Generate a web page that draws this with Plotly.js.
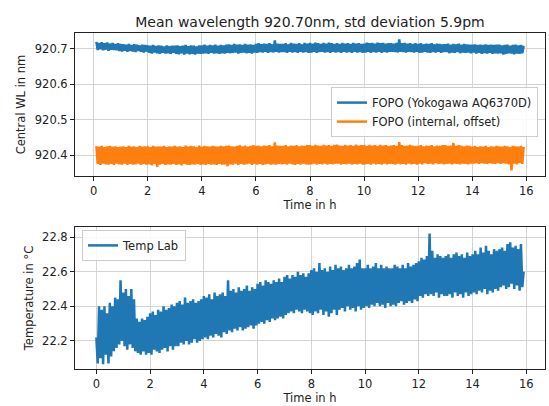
<!DOCTYPE html>
<html>
<head>
<meta charset="utf-8">
<script src="https://cdn.plot.ly/plotly-3.0.1.min.js"></script>
<style>html,body{margin:0;padding:0;background:#fff;}#chart{width:549px;height:406px;}</style>
</head>
<body>
<div id="chart"></div>
<script>
// Time in hours (top panel: both wavelength series)
const timeTop = [0.1,0.15,0.2,0.25,0.3,0.35,0.4,0.45,0.5,0.55,0.6,0.65,0.7,0.75,0.8,0.85,0.9,0.95,
1,1.05,1.1,1.15,1.2,1.25,1.3,1.35,1.4,1.45,1.5,1.55,1.6,1.65,1.7,1.75,1.8,1.85,1.9,1.95,
2,2.05,2.1,2.15,2.2,2.25,2.3,2.35,2.4,2.45,2.5,2.55,2.6,2.65,2.7,2.75,2.8,2.85,2.9,2.95,
3,3.05,3.1,3.15,3.2,3.25,3.3,3.35,3.4,3.45,3.5,3.55,3.6,3.65,3.7,3.75,3.8,3.85,3.9,3.95,
4,4.05,4.1,4.15,4.2,4.25,4.3,4.35,4.4,4.45,4.5,4.55,4.6,4.65,4.7,4.75,4.8,4.85,4.9,4.95,
5,5.05,5.1,5.15,5.2,5.25,5.3,5.35,5.4,5.45,5.5,5.55,5.6,5.65,5.7,5.75,5.8,5.85,5.9,5.95,
6,6.05,6.1,6.15,6.2,6.25,6.3,6.35,6.4,6.45,6.5,6.55,6.6,6.65,6.7,6.75,6.8,6.85,6.9,6.95,
7,7.05,7.1,7.15,7.2,7.25,7.3,7.35,7.4,7.45,7.5,7.55,7.6,7.65,7.7,7.75,7.8,7.85,7.9,7.95,
8,8.05,8.1,8.15,8.2,8.25,8.3,8.35,8.4,8.45,8.5,8.55,8.6,8.65,8.7,8.75,8.8,8.85,8.9,8.95,
9,9.05,9.1,9.15,9.2,9.25,9.3,9.35,9.4,9.45,9.5,9.55,9.6,9.65,9.7,9.75,9.8,9.85,9.9,9.95,
10,10.05,10.1,10.15,10.2,10.25,10.3,10.35,10.4,10.45,10.5,10.55,10.6,10.65,10.7,10.75,10.8,10.85,10.9,10.95,
11,11.05,11.1,11.15,11.2,11.25,11.3,11.35,11.4,11.45,11.5,11.55,11.6,11.65,11.7,11.75,11.8,11.85,11.9,11.95,
12,12.05,12.1,12.15,12.2,12.25,12.3,12.35,12.4,12.45,12.5,12.55,12.6,12.65,12.7,12.75,12.8,12.85,12.9,12.95,
13,13.05,13.1,13.15,13.2,13.25,13.3,13.35,13.4,13.45,13.5,13.55,13.6,13.65,13.7,13.75,13.8,13.85,13.9,13.95,
14,14.05,14.1,14.15,14.2,14.25,14.3,14.35,14.4,14.45,14.5,14.55,14.6,14.65,14.7,14.75,14.8,14.85,14.9,14.95,
15,15.05,15.1,15.15,15.2,15.25,15.3,15.35,15.4,15.45,15.5,15.55,15.6,15.65,15.7,15.75,15.8,15.85,15.9];

// Central wavelength, Yokogawa AQ6370D (nm)
const wlYokogawa = [920.720,920.697,920.717,920.699,920.719,920.696,920.716,920.698,920.718,920.695,920.715,920.698,920.717,920.697,920.714,920.696,920.716,920.694,
920.714,920.693,920.713,920.695,920.712,920.692,920.714,920.694,920.711,920.693,920.713,920.691,920.712,920.694,920.710,920.692,920.712,920.690,920.711,920.693,
920.710,920.689,920.709,920.687,920.711,920.690,920.708,920.688,920.710,920.686,920.709,920.689,920.707,920.687,920.710,920.688,920.708,920.686,920.709,920.689,
920.709,920.686,920.710,920.685,920.708,920.688,920.709,920.684,920.711,920.687,920.708,920.685,920.710,920.686,920.709,920.684,920.707,920.687,920.710,920.686,
920.710,920.687,920.712,920.688,920.709,920.686,920.711,920.689,920.710,920.687,920.712,920.688,920.709,920.686,920.711,920.688,920.710,920.687,920.712,920.689,
920.713,920.688,920.711,920.689,920.714,920.690,920.712,920.687,920.713,920.689,920.711,920.690,920.714,920.688,920.712,920.689,920.713,920.687,920.711,920.690,
920.714,920.689,920.716,920.691,920.713,920.690,920.715,920.692,920.714,920.689,920.716,920.691,920.713,920.690,920.724,920.692,920.715,920.690,920.714,920.691,
920.714,920.691,920.716,920.689,920.713,920.692,920.717,920.690,920.715,920.691,920.714,920.689,920.716,920.692,920.713,920.690,920.717,920.691,920.715,920.689,
920.717,920.690,920.715,920.692,920.718,920.689,920.716,920.691,920.714,920.692,920.717,920.690,920.715,920.691,920.718,920.689,920.716,920.692,920.714,920.690,
920.716,920.691,920.714,920.689,920.717,920.692,920.715,920.690,920.716,920.691,920.714,920.689,920.717,920.692,920.715,920.690,920.716,920.691,920.714,920.689,
920.715,920.690,920.718,920.692,920.716,920.689,920.717,920.691,920.715,920.690,920.718,920.692,920.716,920.689,920.717,920.691,920.715,920.690,920.716,920.692,
920.716,920.692,920.715,920.691,920.717,920.690,920.727,920.692,920.716,920.691,920.717,920.690,920.715,920.692,920.716,920.691,920.714,920.690,920.716,920.692,
920.714,920.689,920.716,920.690,920.713,920.692,920.715,920.690,920.714,920.689,920.716,920.691,920.713,920.690,920.715,920.692,920.714,920.689,920.713,920.691,
920.713,920.691,920.715,920.688,920.712,920.690,920.714,920.689,920.713,920.691,920.715,920.688,920.712,920.690,920.714,920.689,920.713,920.690,920.712,920.688,
920.712,920.690,920.713,920.687,920.711,920.689,920.712,920.686,920.711,920.688,920.713,920.687,920.711,920.689,920.712,920.686,920.711,920.688,920.712,920.687,
920.712,920.688,920.710,920.684,920.711,920.686,920.712,920.688,920.709,920.687,920.711,920.685,920.712,920.687,920.710,920.686,920.711,920.688,920.709];

// Central wavelength, internal measurement with offset (nm)
const wlInternal = [920.425,920.375,920.424,920.372,920.426,920.376,920.423,920.374,920.425,920.373,920.426,920.375,920.424,920.372,920.425,920.376,920.423,920.374,
920.424,920.373,920.425,920.376,920.423,920.372,920.426,920.375,920.424,920.373,920.425,920.374,920.423,920.376,920.426,920.372,920.424,920.375,920.425,920.373,
920.425,920.374,920.423,920.371,920.426,920.375,920.424,920.367,920.425,920.373,920.424,920.375,920.426,920.372,920.423,920.374,920.425,920.373,920.424,920.375,
920.426,920.372,920.424,920.374,920.425,920.371,920.423,920.375,920.427,920.373,920.424,920.372,920.426,920.374,920.425,920.373,920.423,920.375,920.427,920.372,
920.424,920.374,920.426,920.372,920.425,920.375,920.424,920.373,920.426,920.374,920.425,920.372,920.424,920.375,920.426,920.373,920.425,920.374,920.426,920.369,
920.427,920.374,920.425,920.373,920.424,920.376,920.426,920.372,920.428,920.375,920.425,920.373,920.427,920.374,920.424,920.376,920.426,920.372,920.428,920.375,
920.426,920.373,920.427,920.375,920.425,920.372,920.427,920.374,920.426,920.375,920.428,920.373,920.425,920.374,920.436,920.373,920.427,920.375,920.426,920.374,
920.426,920.375,920.428,920.373,920.425,920.376,920.427,920.374,920.426,920.372,920.428,920.375,920.425,920.373,920.427,920.376,920.426,920.374,920.428,920.373,
920.428,920.374,920.426,920.376,920.429,920.373,920.427,920.375,920.426,920.374,920.429,920.376,920.427,920.373,920.428,920.375,920.426,920.374,920.429,920.376,
920.430,920.376,920.427,920.373,920.426,920.375,920.429,920.374,920.427,920.376,920.428,920.373,920.426,920.375,920.430,920.374,920.427,920.376,920.428,920.373,
920.428,920.374,920.426,920.375,920.429,920.373,920.427,920.376,920.428,920.374,920.426,920.375,920.429,920.373,920.427,920.376,920.428,920.374,920.426,920.375,
920.427,920.375,920.428,920.373,920.426,920.376,920.437,920.374,920.428,920.375,920.426,920.373,920.427,920.376,920.429,920.374,920.427,920.375,920.426,920.373,
920.426,920.376,920.428,920.374,920.425,920.377,920.427,920.375,920.426,920.376,920.428,920.374,920.425,920.377,920.427,920.375,920.426,920.376,920.428,920.374,
920.428,920.375,920.426,920.376,920.427,920.374,920.435,920.376,920.426,920.375,920.428,920.374,920.427,920.376,920.425,920.375,920.427,920.374,920.426,920.376,
920.424,920.376,920.426,920.377,920.423,920.375,920.425,920.377,920.424,920.376,920.426,920.375,920.423,920.377,920.425,920.376,920.424,920.375,920.426,920.377,
920.425,920.375,920.424,920.377,920.426,920.376,920.425,920.374,920.423,920.357,920.426,920.376,920.425,920.374,920.424,920.377,920.426,920.375,920.423];

// Time in hours (bottom panel: lab temperature)
const timeBottom = [0,0.05,0.1,0.15,0.2,0.25,0.3,0.35,0.4,0.45,0.5,0.55,0.6,0.65,0.7,0.75,0.8,0.85,0.9,0.95,
1,1.05,1.1,1.15,1.2,1.25,1.3,1.35,1.4,1.45,1.5,1.55,1.6,1.65,1.7,1.75,1.8,1.85,1.9,1.95,
2,2.05,2.1,2.15,2.2,2.25,2.3,2.35,2.4,2.45,2.5,2.55,2.6,2.65,2.7,2.75,2.8,2.85,2.9,2.95,
3,3.05,3.1,3.15,3.2,3.25,3.3,3.35,3.4,3.45,3.5,3.55,3.6,3.65,3.7,3.75,3.8,3.85,3.9,3.95,
4,4.05,4.1,4.15,4.2,4.25,4.3,4.35,4.4,4.45,4.5,4.55,4.6,4.65,4.7,4.75,4.8,4.85,4.9,4.95,
5,5.05,5.1,5.15,5.2,5.25,5.3,5.35,5.4,5.45,5.5,5.55,5.6,5.65,5.7,5.75,5.8,5.85,5.9,5.95,
6,6.05,6.1,6.15,6.2,6.25,6.3,6.35,6.4,6.45,6.5,6.55,6.6,6.65,6.7,6.75,6.8,6.85,6.9,6.95,
7,7.05,7.1,7.15,7.2,7.25,7.3,7.35,7.4,7.45,7.5,7.55,7.6,7.65,7.7,7.75,7.8,7.85,7.9,7.95,
8,8.05,8.1,8.15,8.2,8.25,8.3,8.35,8.4,8.45,8.5,8.55,8.6,8.65,8.7,8.75,8.8,8.85,8.9,8.95,
9,9.05,9.1,9.15,9.2,9.25,9.3,9.35,9.4,9.45,9.5,9.55,9.6,9.65,9.7,9.75,9.8,9.85,9.9,9.95,
10,10.05,10.1,10.15,10.2,10.25,10.3,10.35,10.4,10.45,10.5,10.55,10.6,10.65,10.7,10.75,10.8,10.85,10.9,10.95,
11,11.05,11.1,11.15,11.2,11.25,11.3,11.35,11.4,11.45,11.5,11.55,11.6,11.65,11.7,11.75,11.8,11.85,11.9,11.95,
12,12.05,12.1,12.15,12.2,12.25,12.3,12.35,12.4,12.45,12.5,12.55,12.6,12.65,12.7,12.75,12.8,12.85,12.9,12.95,
13,13.05,13.1,13.15,13.2,13.25,13.3,13.35,13.4,13.45,13.5,13.55,13.6,13.65,13.7,13.75,13.8,13.85,13.9,13.95,
14,14.05,14.1,14.15,14.2,14.25,14.3,14.35,14.4,14.45,14.5,14.55,14.6,14.65,14.7,14.75,14.8,14.85,14.9,14.95,
15,15.05,15.1,15.15,15.2,15.25,15.3,15.35,15.4,15.45,15.5,15.55,15.6,15.65,15.7,15.75,15.8,15.85,15.9];

// Lab temperature (°C)
const tempLab = [22.22,22.07,22.40,22.10,22.38,22.065,22.40,22.12,22.36,22.07,22.42,22.11,22.40,22.14,22.45,22.16,22.44,22.18,22.55,22.20,
22.48,22.17,22.50,22.15,22.46,22.18,22.50,22.16,22.44,22.14,22.33,22.13,22.31,22.12,22.33,22.14,22.32,22.12,22.34,22.13,
22.36,22.12,22.37,22.15,22.35,22.14,22.38,22.13,22.37,22.15,22.40,22.16,22.38,22.14,22.39,22.17,22.41,22.15,22.40,22.17,
22.42,22.17,22.43,22.19,22.41,22.18,22.45,22.20,22.42,22.18,22.43,22.19,22.44,22.21,22.42,22.19,22.43,22.20,22.44,22.21,
22.46,22.22,22.45,22.21,22.47,22.23,22.44,22.22,22.48,22.24,22.46,22.23,22.47,22.22,22.48,22.25,22.46,22.24,22.55,22.26,
22.49,22.25,22.50,22.27,22.48,22.26,22.51,22.28,22.49,22.26,22.50,22.27,22.52,22.28,22.49,22.29,22.51,22.27,22.50,22.29,
22.53,22.30,22.54,22.31,22.52,22.30,22.55,22.32,22.54,22.31,22.53,22.33,22.55,22.32,22.54,22.33,22.56,22.34,22.54,22.33,
22.57,22.35,22.58,22.36,22.56,22.37,22.58,22.36,22.57,22.38,22.60,22.37,22.58,22.36,22.59,22.38,22.57,22.37,22.59,22.36,
22.61,22.35,22.62,22.37,22.60,22.36,22.65,22.38,22.61,22.35,22.62,22.37,22.60,22.34,22.63,22.36,22.61,22.38,22.64,22.35,
22.62,22.38,22.63,22.39,22.61,22.37,22.62,22.40,22.64,22.38,22.62,22.39,22.63,22.37,22.65,22.40,22.67,22.38,22.62,22.39,
22.62,22.40,22.64,22.39,22.62,22.41,22.63,22.40,22.65,22.42,22.62,22.40,22.64,22.41,22.62,22.39,22.63,22.42,22.62,22.40,
22.62,22.41,22.64,22.40,22.63,22.42,22.62,22.43,22.64,22.41,22.62,22.42,22.65,22.43,22.63,22.42,22.64,22.44,22.65,22.43,
22.66,22.46,22.68,22.45,22.67,22.47,22.69,22.46,22.82,22.47,22.72,22.46,22.68,22.48,22.70,22.45,22.69,22.47,22.68,22.46,
22.69,22.46,22.70,22.47,22.68,22.45,22.70,22.48,22.71,22.46,22.69,22.47,22.70,22.45,22.68,22.48,22.71,22.46,22.69,22.47,
22.70,22.48,22.72,22.47,22.70,22.49,22.74,22.48,22.71,22.50,22.75,22.47,22.72,22.49,22.70,22.48,22.73,22.50,22.72,22.49,
22.73,22.51,22.74,22.52,22.72,22.50,22.76,22.51,22.77,22.53,22.74,22.50,22.75,22.52,22.73,22.49,22.76,22.51,22.60];

const titleText = 'Mean wavelength 920.70nm, std deviation 5.9pm';
const xTickVals = [0,2,4,6,8,10,12,14,16];
const topYTicks = [920.4,920.5,920.6,920.7];
const botYTicks = [22.2,22.4,22.6,22.8];

const FONT = 'DejaVu Sans, Arial, sans-serif';
const BLUE = '#1f77b4', ORANGE = '#ff7f0e';

const traces = [
  {x: timeTop, y: wlYokogawa, type: 'scatter', mode: 'lines', name: 'FOPO (Yokogawa AQ6370D)',
   line: {color: BLUE, width: 2.5, simplify: false}, xaxis: 'x', yaxis: 'y', legend: 'legend'},
  {x: timeTop, y: wlInternal, type: 'scatter', mode: 'lines', name: 'FOPO (internal, offset)',
   line: {color: ORANGE, width: 2.5, simplify: false}, xaxis: 'x', yaxis: 'y', legend: 'legend'},
  {x: timeBottom, y: tempLab, type: 'scatter', mode: 'lines', name: 'Temp Lab',
   line: {color: BLUE, width: 2.5, simplify: false}, xaxis: 'x2', yaxis: 'y2', legend: 'legend2'}
];

const axisCommon = {
  showline: true, mirror: true, linecolor: '#222', linewidth: 1,
  ticks: 'outside', ticklen: 4, tickcolor: '#222', tickwidth: 1,
  showgrid: true, gridcolor: '#d3d3d3', gridwidth: 1,
  zeroline: false, automargin: false,
  tickfont: {family: FONT, size: 11.5, color: '#222'}
};

const layout = {
  width: 549, height: 406,
  margin: {l: 75, r: 4, t: 33, b: 37},
  paper_bgcolor: '#fff', plot_bgcolor: '#fff',
  font: {family: FONT, size: 11.5, color: '#222'},
  title: {text: titleText, x: 0.5, xref: 'paper', xanchor: 'center',
          y: 1 - 22/406, yref: 'container', yanchor: 'middle',
          font: {family: FONT, size: 14, color: '#222'}},
  xaxis: Object.assign({}, axisCommon, {domain: [0, 1], anchor: 'y', range: [-0.69, 16.69],
          tickvals: xTickVals, title: {text: 'Time in h', standoff: 4, font: {family: FONT, size: 11.5, color: '#222'}}}),
  yaxis: Object.assign({}, axisCommon, {domain: [0.5744, 1], anchor: 'x', range: [920.341, 920.745],
          tickvals: topYTicks, ticktext: topYTicks.map(v => v.toFixed(1)),
          title: {text: 'Central WL in nm', standoff: 6, font: {family: FONT, size: 11.5, color: '#222'}}}),
  xaxis2: Object.assign({}, axisCommon, {domain: [0, 1], anchor: 'y2', range: [-0.795, 16.695],
          tickvals: xTickVals, title: {text: 'Time in h', standoff: 4, font: {family: FONT, size: 11.5, color: '#222'}}}),
  yaxis2: Object.assign({}, axisCommon, {domain: [0, 0.4226], anchor: 'x2', range: [22.038, 22.858],
          tickvals: botYTicks, ticktext: botYTicks.map(v => v.toFixed(1)),
          title: {text: 'Temperature in °C', standoff: 6, font: {family: FONT, size: 11.5, color: '#222'}}}),
  legend: {x: 0.985, xanchor: 'right', y: 0.839, yanchor: 'top', xref: 'paper', yref: 'paper',
           bgcolor: 'rgba(255,255,255,0.85)', bordercolor: '#cccccc', borderwidth: 1,
           font: {family: FONT, size: 11.5, color: '#222'}, tracegroupgap: 0},
  legend2: {x: 0.015, xanchor: 'left', y: 0.414, yanchor: 'top', xref: 'paper', yref: 'paper',
           bgcolor: 'rgba(255,255,255,0.85)', bordercolor: '#cccccc', borderwidth: 1,
           font: {family: FONT, size: 11.5, color: '#222'}},
  showlegend: true
};

Plotly.newPlot('chart', traces, layout, {displayModeBar: false, staticPlot: true});
</script>
</body>
</html>
